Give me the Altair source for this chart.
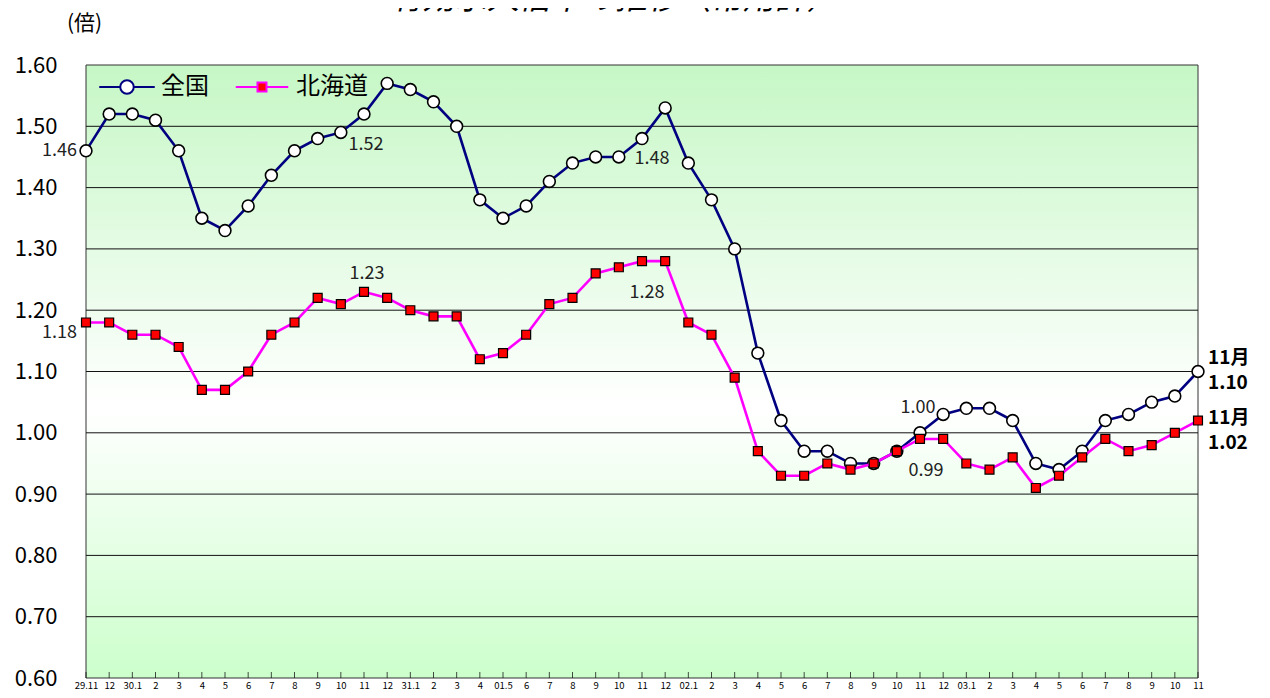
import altair as alt
import pandas as pd

FONT = "Noto Sans CJK JP"

title_text = "有効求人倍率の推移（常用計）"
y_unit = "(倍)"
series_names = ["全国", "北海道"]
last_label = "11月"

x_labels = ["29.11", "12", "30.1", "2", "3", "4", "5", "6", "7", "8", "9", "10", "11", "12",
            "31.1", "2", "3", "4", "01.5", "6", "7", "8", "9", "10", "11", "12",
            "02.1", "2", "3", "4", "5", "6", "7", "8", "9", "10", "11", "12",
            "03.1", "2", "3", "4", "5", "6", "7", "8", "9", "10", "11"]

national = [1.46, 1.52, 1.52, 1.51, 1.46, 1.35, 1.33, 1.37, 1.42, 1.46, 1.48, 1.49, 1.52, 1.57,
            1.56, 1.54, 1.50, 1.38, 1.35, 1.37, 1.41, 1.44, 1.45, 1.45, 1.48, 1.53,
            1.44, 1.38, 1.30, 1.13, 1.02, 0.97, 0.97, 0.95, 0.95, 0.97, 1.00, 1.03,
            1.04, 1.04, 1.02, 0.95, 0.94, 0.97, 1.02, 1.03, 1.05, 1.06, 1.10]

hokkaido = [1.18, 1.18, 1.16, 1.16, 1.14, 1.07, 1.07, 1.10, 1.16, 1.18, 1.22, 1.21, 1.23, 1.22,
            1.20, 1.19, 1.19, 1.12, 1.13, 1.16, 1.21, 1.22, 1.26, 1.27, 1.28, 1.28,
            1.18, 1.16, 1.09, 0.97, 0.93, 0.93, 0.95, 0.94, 0.95, 0.97, 0.99, 0.99,
            0.95, 0.94, 0.96, 0.91, 0.93, 0.96, 0.99, 0.97, 0.98, 1.00, 1.02]

y_ticks = [0.60, 0.70, 0.80, 0.90, 1.00, 1.10, 1.20, 1.30, 1.40, 1.50, 1.60]

n = len(x_labels)
rows = []
for name, vals in zip(series_names, [national, hokkaido]):
    for i, v in enumerate(vals):
        rows.append({"idx": i, "series": name, "value": v})
df = pd.DataFrame(rows)

df_bg = pd.DataFrame([{"x0": 0, "x1": n - 1, "y0": y_ticks[0], "y1": y_ticks[-1]}])
df_grid = pd.DataFrame({"g": y_ticks[1:-1]})
df_ticks = pd.DataFrame({"idx": list(range(n)), "base": [y_ticks[0]] * n})
df_title = pd.DataFrame([{"t": title_text, "cx": (n - 1) / 2, "top": y_ticks[-1]}])

label_expr = "[" + ",".join("'" + s + "'" for s in x_labels) + "][datum.value]"

xscale = alt.Scale(domain=[0, n - 1], nice=False, zero=False)
yscale = alt.Scale(domain=[y_ticks[0], y_ticks[-1]], nice=False, zero=False)
xaxis = alt.Axis(values=list(range(n)), labelExpr=label_expr, labelFontSize=9.5, labelFont=FONT,
                 labelColor="black", labelPadding=2, tickSize=0, domain=False, grid=False,
                 labelOverlap=False, labelFlush=False, labelAngle=0)
yaxis = alt.Axis(values=y_ticks, format=".2f", labelFontSize=22, labelFont=FONT, labelColor="black",
                 labelPadding=29, ticks=False, domain=False, grid=False,
                 titleAngle=0, titleX=-2, titleY=-42, titleAlign="center", titleBaseline="middle",
                 titleFont=FONT, titleFontSize=21, titleFontWeight="normal", titleColor="black")


def X(field):
    return alt.X(field, type="quantitative", scale=xscale, axis=xaxis, title=None)


def Y(field):
    return alt.Y(field, type="quantitative", scale=yscale, axis=yaxis, title=y_unit)


gradient = alt.Gradient(
    gradient="linear",
    stops=[alt.GradientStop(color="#c6f7c6", offset=0),
           alt.GradientStop(color="#ffffff", offset=0.56),
           alt.GradientStop(color="#ccffcc", offset=1)],
    x1=0, x2=0, y1=0, y2=1,
)

bg = alt.Chart(df_bg).mark_rect(fill=gradient, stroke="#333333", strokeWidth=1).encode(
    x=X("x0"), x2="x1", y=Y("y0"), y2="y1"
)

grid = alt.Chart(df_grid).mark_rule(color="#111111", strokeWidth=1).encode(y=Y("g"))

ticks = alt.Chart(df_ticks).mark_tick(orient="vertical", size=6, thickness=1, color="black",
                                      yOffset=-3).encode(x=X("idx"), y=Y("base"))

title_mark = alt.Chart(df_title).mark_text(
    dx=-27, dy=-49, align="center", baseline="bottom", font=FONT, fontSize=32,
    fontStyle="italic", color="black").encode(x=X("cx"), y=Y("top"), text="t:N")

base = alt.Chart(df)

nat_line = base.mark_line(color="#000080", strokeWidth=2.6).encode(
    x=X("idx"), y=Y("value")).transform_filter(f"datum.series == '{series_names[0]}'")
nat_pts = base.mark_point(shape="circle", size=140, filled=True, fill="white", stroke="black",
                          strokeWidth=1.6, opacity=1).encode(
    x=X("idx"), y=Y("value")).transform_filter(f"datum.series == '{series_names[0]}'")
hok_line = base.mark_line(color="#ff00ff", strokeWidth=2.6).encode(
    x=X("idx"), y=Y("value")).transform_filter(f"datum.series == '{series_names[1]}'")
hok_pts = base.mark_point(shape="square", size=80, filled=True, fill="#ff0000", stroke="black",
                          strokeWidth=1.2, opacity=1).encode(
    x=X("idx"), y=Y("value")).transform_filter(f"datum.series == '{series_names[1]}'")


def value_label(series, idx, dx, dy, align="center"):
    return base.mark_text(dx=dx, dy=dy, align=align, baseline="middle", font=FONT, fontSize=18,
                          color="#222222").encode(
        x=X("idx"), y=Y("value"), text=alt.Text("value:Q", format=".2f")
    ).transform_filter(f"datum.series == '{series}' && datum.idx == {idx}")


def last_labels(series, dy_month, dy_value):
    flt = f"datum.series == '{series}' && datum.idx == {n - 1}"
    m = base.mark_text(dx=10, dy=dy_month, align="left", baseline="middle", font=FONT, fontSize=19,
                       fontWeight="bold", color="black").encode(
        x=X("idx"), y=Y("value"), text=alt.value(last_label)).transform_filter(flt)
    v = base.mark_text(dx=10, dy=dy_value, align="left", baseline="middle", font=FONT, fontSize=19,
                       fontWeight="bold", color="black").encode(
        x=X("idx"), y=Y("value"), text=alt.Text("value:Q", format=".2f")).transform_filter(flt)
    return [m, v]


texts = [
    value_label(series_names[0], 0, -9, 0, "right"),
    value_label(series_names[1], 0, -9, 11, "right"),
    value_label(series_names[0], 12, 2, 31),
    value_label(series_names[1], 12, 3, -18),
    value_label(series_names[0], 24, 10, 20),
    value_label(series_names[1], 24, 5, 32),
    value_label(series_names[0], 36, -2, -25),
    value_label(series_names[1], 36, 6, 32),
] + last_labels(series_names[0], -14, 11) + last_labels(series_names[1], -3, 22)

circ_path = "M-1.85,0H-0.45M0.45,0H1.85M0.45,0A0.45,0.45,0,1,1,-0.45,0A0.45,0.45,0,1,1,0.45,0Z"
sq_path = "M-1.75,0H-0.3M0.3,0H1.75M-0.3,-0.3H0.3V0.3H-0.3Z"

legend = alt.Legend(orient="none", legendX=25, legendY=6, direction="horizontal", title=None,
                    labelFont=FONT, labelFontSize=24, labelColor="black", symbolSize=900,
                    symbolStrokeWidth=2, labelOffset=18, columnPadding=22, padding=0,
                    symbolOpacity=1)

leg_layer = base.mark_point(filled=True, opacity=1).encode(
    shape=alt.Shape("series:N", scale=alt.Scale(domain=series_names, range=[circ_path, sq_path]),
                    legend=legend),
    fill=alt.Fill("series:N", scale=alt.Scale(domain=series_names, range=["white", "#ff0000"]),
                  legend=legend),
    stroke=alt.Stroke("series:N", scale=alt.Scale(domain=series_names, range=["#000080", "#ff00ff"]),
                      legend=legend),
).transform_filter("false")

chart = alt.layer(bg, grid, ticks, nat_line, nat_pts, hok_line, hok_pts, *texts, title_mark,
                  leg_layer).properties(
    width=1112,
    height=613,
    autosize=alt.AutoSizeParams(type="none"),
    padding={"left": 78, "top": 57, "right": 62, "bottom": 12},
).configure_view(stroke=None)

chart.save("out.html", embed_options={"renderer": "svg", "actions": False})
